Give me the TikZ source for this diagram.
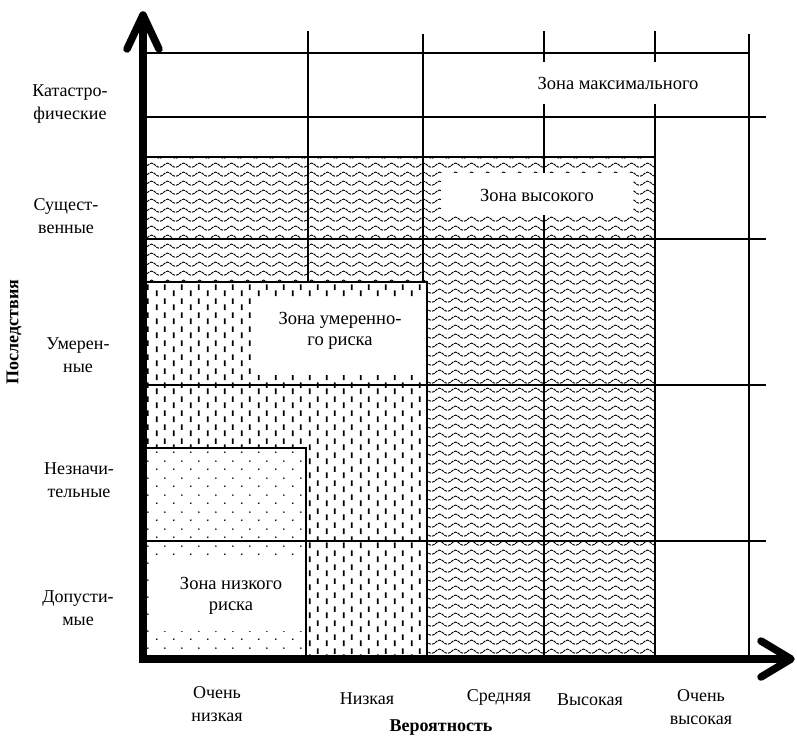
\documentclass[tikz,border=0pt]{standalone}
\usepackage{fontspec}
\setmainfont{Liberation Serif}
\usetikzlibrary{patterns}
\pgfdeclarepatternformonly{wavy}{\pgfpointorigin}{\pgfqpoint{16pt}{9pt}}{\pgfqpoint{16pt}{9pt}}{
  \pgfsetlinewidth{1.05pt}
  \pgfsetdash{{3pt}{0.9pt}}{0pt}
  \pgfpathmoveto{\pgfqpoint{0pt}{2pt}}
  \pgfpathcurveto{\pgfqpoint{3pt}{2pt}}{\pgfqpoint{5pt}{6.5pt}}{\pgfqpoint{8pt}{6.5pt}}
  \pgfpathcurveto{\pgfqpoint{11pt}{6.5pt}}{\pgfqpoint{13pt}{2pt}}{\pgfqpoint{16pt}{2pt}}
  \pgfusepath{stroke}
}
\pgfdeclarepatternformonly{vdashes}{\pgfpointorigin}{\pgfqpoint{17pt}{14pt}}{\pgfqpoint{17pt}{14pt}}{
  \pgfsetlinewidth{1.9pt}
  \pgfpathmoveto{\pgfqpoint{4pt}{1pt}}\pgfpathlineto{\pgfqpoint{4pt}{7pt}}
  \pgfpathmoveto{\pgfqpoint{12.5pt}{7.5pt}}\pgfpathlineto{\pgfqpoint{12.5pt}{13.5pt}}
  \pgfusepath{stroke}
}
\pgfdeclarepatternformonly{sdots}{\pgfpointorigin}{\pgfqpoint{17pt}{17pt}}{\pgfqpoint{17pt}{17pt}}{
  \pgfpathcircle{\pgfqpoint{4pt}{4pt}}{1pt}
  \pgfpathcircle{\pgfqpoint{12.5pt}{12.5pt}}{1pt}
  \pgfusepath{fill}
}
\tikzset{
  grid/.style={line width=1.3pt},
  edge/.style={line width=1.4pt},
  axis/.style={line width=8pt},
  arrowv/.style={line width=7.5pt, line cap=round, line join=round},
  lbl/.style={font=\fontsize{18}{23}\selectfont, align=center, inner sep=0pt},
  zlbl/.style={font=\fontsize{18.5}{21.5}\selectfont, align=center, inner sep=0pt},
  axlbl/.style={font=\fontsize{18}{20}\selectfont\bfseries, inner sep=0pt},
  wbox/.style={fill=white, draw=none}
}
\begin{document}
\begin{tikzpicture}[x=1pt,y=-1pt]
\useasboundingbox (0,0) rectangle (797,744);
\fill[white] (0,0) rectangle (797,744);
% zones
\fill[pattern=wavy] (147,157) rectangle (655,655);
\fill[white] (147,282) rectangle (427,655);
\fill[pattern=vdashes] (147,282) rectangle (427,655);
\fill[white] (147,448) rectangle (306,655);
\fill[pattern=sdots] (147,448) rectangle (306,655);
% grid lines
\coordinate (h1a) at (147,53);  \coordinate (h1b) at (749,53);
\coordinate (h2a) at (147,117); \coordinate (h2b) at (766,117);
\coordinate (h3a) at (147,239); \coordinate (h3b) at (766,239);
\coordinate (h4a) at (147,385); \coordinate (h4b) at (766,385);
\coordinate (h5a) at (147,541); \coordinate (h5b) at (766,541);
\draw[grid] (h1a) -- (h1b);
\draw[grid] (h2a) -- (h2b);
\draw[grid] (h3a) -- (h3b);
\draw[grid] (h4a) -- (h4b);
\draw[grid] (h5a) -- (h5b);
\coordinate (v1a) at (308,31);  \coordinate (v1b) at (308,282);
\coordinate (v2a) at (423,34);  \coordinate (v2b) at (423,282);
\coordinate (v3a) at (544,31);  \coordinate (v3b) at (544,655);
\coordinate (v4a) at (655,31);  \coordinate (v4b) at (655,655);
\coordinate (v5a) at (749,34);  \coordinate (v5b) at (749,655);
\draw[grid] (v1a) -- (v1b);
\draw[grid] (v2a) -- (v2b);
\draw[grid] (v3a) -- (v3b);
\draw[line width=2pt] (v4a) -- (v4b);
\draw[grid] (v5a) -- (v5b);
% zone borders
\draw[edge] (147,157) -- (655,157);
\draw[edge] (147,282) -- (427,282) -- (427,655);
\draw[edge] (147,448) -- (306,448) -- (306,655);
% zone labels
\fill[wbox] (530,62) rectangle (706,104);
\node[zlbl] (zmax) at (618,83) {Зона максимального};
\fill[wbox] (441,173) rectangle (633,215);
\node[zlbl] (zhigh) at (537,195) {Зона высокого};
\fill[wbox] (257,297) rectangle (424,375);
\node[zlbl] (zmod) at (340,331) {Зона умеренно-\\го риска};
\fill[wbox] (149,562) rectangle (305,631);
\node[zlbl] (zlow) at (231,596) {Зона низкого\\риска};
% axes
\coordinate (O) at (143,663);
\coordinate (Ytip) at (143,15);
\coordinate (Xtip) at (791,659);
\draw[axis] (143,663) -- (Ytip);
\draw[axis] (139,659) -- (Xtip);
\draw[arrowv] (127,49) -- (Ytip) -- (159,49);
\draw[arrowv] (761,641) -- (Xtip) -- (761,677);
% row labels
\node[lbl] (r1) at (70,104) {Катастро-\\фические};
\node[lbl] (r2) at (66,216) {Сущест-\\венные};
\node[lbl] (r3) at (78,355) {Умерен-\\ные};
\node[lbl] (r4) at (79,480) {Незначи-\\тельные};
\node[lbl] (r5) at (78,608) {Допусти-\\мые};
% column labels
\node[lbl] (c1) at (217,704) {Очень\\низкая};
\node[lbl] (c2) at (367,699) {Низкая};
\node[lbl] (c3) at (499,697) {Средняя};
\node[lbl] (c4) at (590,700) {Высокая};
\node[lbl] (c5) at (701,707) {Очень\\высокая};
% axis titles
\node[axlbl] (xt) at (441,728) {Вероятность};
\node[axlbl, rotate=90] (yt) at (14,332) {Последствия};
\end{tikzpicture}
\end{document}
